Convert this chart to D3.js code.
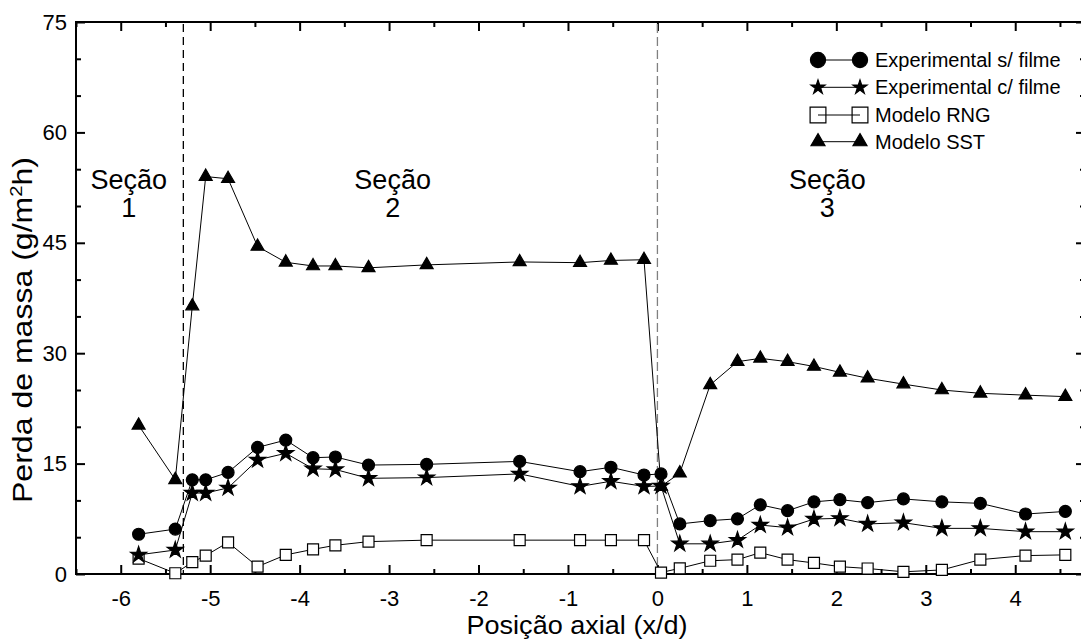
<!DOCTYPE html>
<html>
<head>
<meta charset="utf-8">
<script src="https://cdn.jsdelivr.net/npm/d3@7"></script>
<style>
  body { margin: 0; background: #fff; }
  svg { display: block; font-family: "Liberation Sans", Arial, sans-serif; }
</style>
</head>
<body>
<script>
// values
let xPos = [-5.80, -5.39, -5.20, -5.05, -4.80, -4.47, -4.155, -3.85, -3.60, -3.23, -2.58, -1.54,
  -0.865, -0.52, -0.15, 0.04, 0.25, 0.59, 0.895, 1.15, 1.455, 1.75, 2.04, 2.35, 2.75, 3.18, 3.61, 4.115, 4.56];

let semFilme = [5.4, 6.1, 12.8, 12.8, 13.8, 17.2, 18.2, 15.8, 15.9, 14.8, 14.9, 15.3, 13.9, 14.5, 13.45,
  13.6, 6.8, 7.25, 7.5, 9.4, 8.6, 9.8, 10.1, 9.7, 10.2, 9.8, 9.6, 8.15, 8.5];
let comFilme = [2.6, 3.26, 11.0, 11.0, 11.7, 15.5, 16.4, 14.3, 14.2, 13.0, 13.1, 13.6, 11.9, 12.6, 11.9,
  11.95, 4.1, 4.1, 4.6, 6.65, 6.3, 7.47, 7.56, 6.8, 6.97, 6.2, 6.2, 5.75, 5.75];
let modeloRNG = [2.1, 0.1, 1.6, 2.5, 4.3, 1.0, 2.6, 3.35, 3.9, 4.4, 4.6, 4.6, 4.6, 4.6, 4.6,
  0.2, 0.77, 1.8, 1.95, 2.9, 1.95, 1.5, 1.0, 0.75, 0.3, 0.55, 1.95, 2.5, 2.6];
let modeloSST = [20.2, 12.8, 36.4, 54.0, 53.7, 44.5, 42.35, 41.85, 41.85, 41.6, 42.0, 42.4, 42.3, 42.6, 42.7,
  11.9, 13.7, 25.7, 28.85, 29.3, 28.85, 28.2, 27.4, 26.6, 25.8, 25.0, 24.55, 24.3, 24.1];

let xTicks = [-6, -5, -4, -3, -2, -1, 0, 1, 2, 3, 4];
let xMinor = [-6.5, -5.5, -4.5, -3.5, -2.5, -1.5, -0.5, 0.5, 1.5, 2.5, 3.5, 4.5];
let yTicks = [0, 15, 30, 45, 60, 75];
let yMinor = [5, 10, 20, 25, 35, 40, 50, 55, 65, 70];

let secoes = [
  { x: -5.91, nome: "Seção", num: "1" },
  { x: -2.96, nome: "Seção", num: "2" },
  { x: 1.90, nome: "Seção", num: "3" }
];
let divisorias = [-5.3, 0];

let legendNames = ["Experimental s/ filme", "Experimental c/ filme", "Modelo RNG", "Modelo SST"];

// globals
let W = 1081, H = 641;
let mLeft = 76, mRight = 1085, mTop = 22, mBottom = 574;

let x = d3.scaleLinear().domain([-6.5, 4.78]).range([mLeft, mRight]);
let y = d3.scaleLinear().domain([0, 75]).range([mBottom, mTop]);

let svg = d3.select("body").append("svg").attr("width", W).attr("height", H);

// frame
svg.append("rect")
  .attr("x", mLeft).attr("y", mTop)
  .attr("width", mRight - mLeft).attr("height", mBottom - mTop)
  .attr("fill", "none").attr("stroke", "#000").attr("stroke-width", 2);

// ticks on all four sides, pointing inward
let fmt = d => String(d);
let drawAxis = (axis, transform, labels) => {
  let g = svg.append("g").attr("transform", transform).call(axis);
  g.select(".domain").remove();
  g.selectAll(".tick line").attr("stroke-width", 2);
  g.selectAll("text").attr("font-size", 22).attr("fill", "#000");
  if (!labels) g.selectAll("text").remove();
  return g;
};

drawAxis(d3.axisBottom(x).tickValues(xTicks).tickFormat(fmt).tickSizeInner(-9).tickSizeOuter(0).tickPadding(16),
  `translate(0,${mBottom})`, true);
drawAxis(d3.axisBottom(x).tickValues(xMinor).tickSizeInner(-5).tickSizeOuter(0), `translate(0,${mBottom})`, false);
drawAxis(d3.axisTop(x).tickValues(xTicks).tickSizeInner(-9).tickSizeOuter(0), `translate(0,${mTop})`, false);
drawAxis(d3.axisTop(x).tickValues(xMinor).tickSizeInner(-5).tickSizeOuter(0), `translate(0,${mTop})`, false);

drawAxis(d3.axisLeft(y).tickValues(yTicks).tickFormat(fmt).tickSizeInner(-9).tickSizeOuter(0).tickPadding(9),
  `translate(${mLeft},0)`, true);
drawAxis(d3.axisLeft(y).tickValues(yMinor).tickSizeInner(-5).tickSizeOuter(0), `translate(${mLeft},0)`, false);
drawAxis(d3.axisRight(y).tickValues(yTicks).tickSizeInner(-9).tickSizeOuter(0), `translate(${mRight},0)`, false);
drawAxis(d3.axisRight(y).tickValues(yMinor).tickSizeInner(-5).tickSizeOuter(0), `translate(${mRight},0)`, false);

// section dividers
svg.selectAll(".div")
  .data(divisorias)
  .enter()
  .append("line")
  .attr("x1", d => x(d)).attr("x2", d => x(d))
  .attr("y1", mTop + 2).attr("y2", mBottom)
  .attr("stroke", (d, i) => (i == 0 ? "#000" : "#808080"))
  .attr("stroke-width", 1.3)
  .attr("stroke-dasharray", (d, i) => (i == 0 ? "8,5" : "9,4"));

// section labels
let sec = svg.selectAll(".sec").data(secoes).enter().append("g");
sec.append("text")
  .attr("x", d => x(d.x)).attr("y", 189)
  .attr("text-anchor", "middle").attr("font-size", 27)
  .text(d => d.nome);
sec.append("text")
  .attr("x", d => x(d.x)).attr("y", 217)
  .attr("text-anchor", "middle").attr("font-size", 27)
  .text(d => d.num);

// series
let line = d3.line().x(d => x(d[0])).y(d => y(d[1]));
let pairs = vals => xPos.map((v, i) => [v, vals[i]]);

let series = [
  { name: legendNames[3], vals: modeloSST, sym: d3.symbolTriangle, size: 73, lsize: 85, fill: "#000" },
  { name: legendNames[2], vals: modeloRNG, sym: d3.symbolSquare, size: 121, lsize: 250, fill: "#fff" },
  { name: legendNames[0], vals: semFilme, sym: d3.symbolCircle, size: 113, lsize: 180, fill: "#000" },
  { name: legendNames[1], vals: comFilme, sym: d3.symbolStar, size: 80, lsize: 62, fill: "#000" }
];

series.forEach(s => {
  let g = svg.append("g");
  g.append("path")
    .attr("d", line(pairs(s.vals)))
    .attr("fill", "none").attr("stroke", "#000").attr("stroke-width", 1);
  g.selectAll("path.pt")
    .data(pairs(s.vals))
    .enter()
    .append("path")
    .attr("class", "pt")
    .attr("transform", d => `translate(${x(d[0])},${y(d[1])})`)
    .attr("d", d3.symbol(s.sym, s.size))
    .attr("fill", s.fill)
    .attr("stroke", "#000")
    .attr("stroke-width", 1.2);
});

// legend
let legendY = [60, 87.3, 115, 141.7];
let legendOrder = [series[2], series[3], series[1], series[0]];
let lg = svg.append("g");
legendOrder.forEach((s, i) => {
  let row = lg.append("g").attr("transform", `translate(0,${legendY[i]})`);
  let isSquare = s.sym == d3.symbolSquare;
  [818, 860].forEach(cx => {
    row.append("path")
      .attr("transform", `translate(${cx},0)`)
      .attr("d", d3.symbol(s.sym, s.lsize))
      .attr("fill", isSquare ? "none" : s.fill)
      .attr("stroke", "#000").attr("stroke-width", 1.2);
  });
  row.append("line")
    .attr("x1", 818).attr("x2", 860)
    .attr("stroke", "#000").attr("stroke-width", 1);
  row.append("text")
    .attr("x", 875).attr("y", 7)
    .attr("font-size", 20)
    .text(s.name);
});

// axis titles
svg.append("text")
  .attr("x", 577).attr("y", 634)
  .attr("text-anchor", "middle").attr("font-size", 26)
  .attr("textLength", 221).attr("lengthAdjust", "spacingAndGlyphs")
  .text("Posição axial (x/d)");

let yt = svg.append("text")
  .attr("transform", "translate(32,330) rotate(-90)")
  .attr("text-anchor", "middle").attr("font-size", 27)
  .attr("textLength", 346).attr("lengthAdjust", "spacingAndGlyphs");
yt.append("tspan").text("Perda de massa (g/m");
yt.append("tspan").attr("dy", -10).attr("font-size", 17).text("2");
yt.append("tspan").attr("dy", 10).text("h)");
</script>
</body>
</html>
